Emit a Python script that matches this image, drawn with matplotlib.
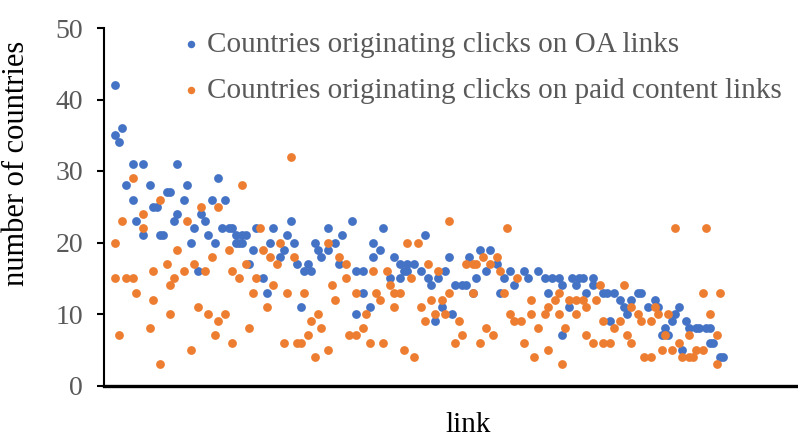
import matplotlib
matplotlib.use("Agg")
from matplotlib import pyplot as plt

# link position and number of countries
oa_link = [3, 3, 4, 5, 6, 8, 8, 9, 11, 11, 13, 14, 15, 16, 17, 18, 19, 20, 21, 21, 23, 24, 25, 26, 27, 28, 29, 30, 31, 32, 33, 34,
           35, 36, 37, 38, 38, 39, 40, 40, 41, 42, 43, 44, 46, 47, 48, 49, 51, 52, 53, 54, 55, 56, 57, 58, 59, 60, 61, 62, 63, 65, 65,
           67, 68, 69, 72, 73, 73, 75, 75, 77, 78, 78, 80, 81, 83, 84, 86, 86, 87, 88, 88, 90, 92, 93, 94, 95, 96, 97, 98, 99, 100,
           101, 102, 104, 105, 106, 107, 108, 109, 111, 112, 114, 115, 116, 118, 119, 122, 123, 126, 128, 129, 130, 132, 133, 133, 135,
           136, 137, 138, 139, 140, 142, 142, 145, 146, 147, 148, 150, 151, 152, 153, 155, 156, 158, 160, 161, 162, 163, 164, 165, 166,
           167, 168, 169, 170, 172, 173, 175, 176, 176, 177, 179, 180]
oa_countries = [42, 35, 34, 36, 28, 26, 31, 23, 31, 21, 28, 25, 25, 21, 21, 27, 27, 23, 31, 24, 26, 28, 20, 22, 16, 24, 23, 21, 26, 20, 29, 22,
                26, 22, 22, 20, 21, 20, 21, 20, 21, 17, 19, 22, 15, 13, 20, 22, 18, 19, 21, 23, 20, 17, 11, 16, 17, 16, 20, 19, 18, 22, 19,
                20, 17, 21, 23, 10, 16, 13, 16, 11, 20, 18, 19, 22, 15, 18, 15, 17, 16, 17, 16, 17, 16, 21, 15, 14, 9, 15, 11, 16, 18,
                10, 14, 14, 14, 18, 13, 15, 19, 16, 19, 17, 13, 15, 16, 14, 16, 15, 16, 15, 13, 15, 15, 14, 7, 11,
                15, 14, 15, 15, 13, 15, 14, 13, 13, 9, 13, 12, 11, 10, 12, 13, 13, 11, 12, 11, 7, 8, 7, 9, 10,
                11, 5, 9, 8, 8, 8, 8, 8, 6, 6, 4, 4]

paid_link = [3, 3, 4, 5, 6, 8, 8, 9, 11, 11, 13, 14, 14, 16, 16, 18, 19, 19, 20, 21, 23, 24, 25, 26, 27, 28, 29, 30, 31, 32, 33, 33,
             35, 36, 37, 37, 39, 40, 41, 42, 43, 44, 45, 46, 47, 48, 49, 50, 51, 52, 53, 54, 55, 56, 57, 58, 59, 60, 61, 62, 63, 65, 65, 66, 67,
             68, 70, 70, 71, 73, 73, 75, 76, 77, 78, 79, 80, 81, 82, 83, 84, 84, 86, 87, 88, 89, 90, 91, 92, 93, 94, 95, 96, 97, 98, 99, 100, 100,
             102, 103, 104, 105, 107, 107, 108, 109, 110, 111, 112, 113, 114, 115, 116, 117, 118, 119, 120, 121, 122, 124, 124, 125, 126,
             128, 129, 129, 131, 132, 132, 133, 134,
             135, 137, 137, 139, 140, 140, 142, 143, 144, 145, 145, 147, 148, 150, 151, 152, 153, 153, 155, 156, 157, 159, 159, 160, 161,
             162, 163, 164, 165, 166, 167, 168, 170, 170, 171, 172, 174, 174, 175, 176, 178, 178, 179]
paid_countries = [15, 20, 7, 23, 15, 29, 15, 13, 24, 22, 8, 12, 16, 26, 3, 17, 10, 14, 15, 19, 16, 23, 5, 17, 11, 25, 16, 10, 18, 7, 25, 9,
                  10, 19, 6, 16, 15, 28, 17, 8, 13, 15, 22, 19, 11, 18, 14, 17, 20, 6, 13, 32, 18, 6, 6, 13, 7, 9, 4, 10, 8, 20, 5, 14, 12,
                  18, 15, 17, 7, 7, 13, 8, 10, 6, 16, 13, 12, 6, 16, 14, 11, 13, 13, 5, 20, 15, 4, 20, 11, 9, 17, 12, 10, 16, 12, 10, 23, 13,
                  6, 9, 7, 17, 17, 13, 17, 6, 18, 8, 17, 7, 18, 16, 13, 22, 10, 9, 15, 9, 6, 12, 10, 4, 8,
                  10, 11, 5, 12, 10, 13, 3, 8,
                  12, 12, 10, 12, 11, 7, 6, 12, 14, 9, 6, 6, 8, 9, 14, 7, 6, 11, 10, 9, 4, 4, 9, 11, 10,
                  5, 7, 10, 5, 22, 6, 4, 4, 7, 4, 5, 5, 13, 22, 10, 3, 7, 13]

y_ticks = [0, 10, 20, 30, 40, 50]

plt.rcParams['font.family'] = ['Liberation Serif', 'DejaVu Serif']

fig = plt.figure(figsize=(7.98, 4.37), dpi=100)
ax = fig.add_axes([104 / 798, 51.5 / 437, 694 / 798, 357.5 / 437])

ax.scatter(oa_link, oa_countries, s=40, color='#4472C4', linewidths=0, zorder=3,
           label='Countries originating clicks on OA links')
ax.scatter(paid_link, paid_countries, s=40, color='#ED7D31', linewidths=0, zorder=4,
           label='Countries originating clicks on paid content links')

ax.set_xlim(-0.3, 201.7)
ax.set_ylim(0, 50)
ax.set_yticks(y_ticks)
ax.set_xticks([])

ax.spines['top'].set_visible(False)
ax.spines['right'].set_visible(False)
ax.spines['left'].set_linewidth(1.5)
ax.spines['bottom'].set_linewidth(2.4)
ax.tick_params(axis='y', direction='out', length=5, width=1.5, labelsize=20,
               labelcolor='#595959', pad=10)

ax.set_xlabel('link', fontsize=21, color='black')
ax.xaxis.set_label_coords(0.524, -0.074)
ax.set_ylabel('number of countries', fontsize=22, color='black')
ax.yaxis.set_label_coords(-0.105, 0.62)

leg = fig.legend(loc='upper left', bbox_to_anchor=(182 / 798, 1 - 31.5 / 437), frameon=False,
                 fontsize=21, handlelength=0.6, handletextpad=0.25, labelspacing=0.66,
                 borderpad=0, borderaxespad=0, markerscale=0.85)
for t in leg.get_texts():
    t.set_color('#595959')

fig.savefig('out.png', dpi=100)
